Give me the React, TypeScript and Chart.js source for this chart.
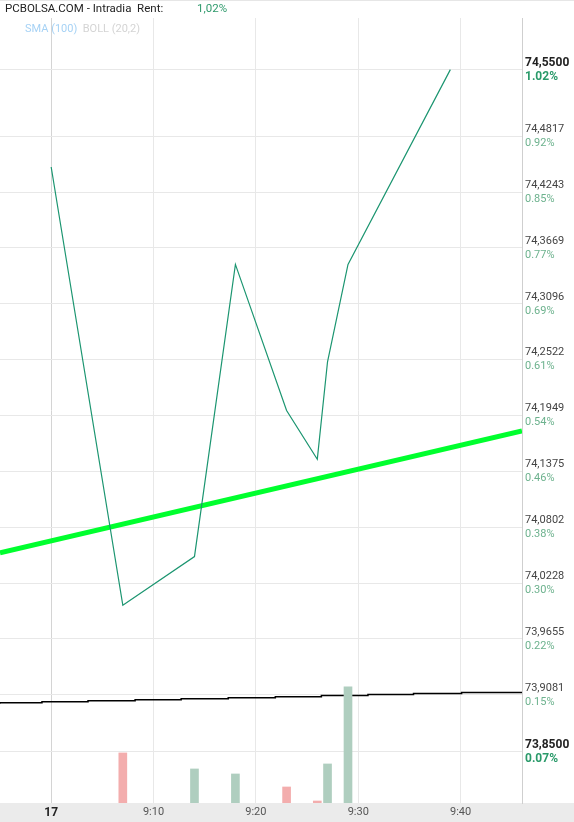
import { useEffect, useRef } from "react"
import { Chart, registerables } from "chart.js"

Chart.register(...registerables)

// times are minutes after 9:00 (the session of day 17)
const PRICE_TIMES = [0, 7, 14, 18, 23, 26, 27, 29, 39]
const PRICE_VALUES = [74.45, 74.0, 74.05, 74.35, 74.2, 74.15, 74.25, 74.35, 74.55]

const SMA_TIMES = [-5, 46]
const SMA_VALUES = [74.054, 74.179]

const BAND_TIMES = [-5, -0.9, 3.6, 8.2, 12.7, 17.3, 21.9, 26.4, 30.95, 35.4, 40.1, 44.6, 46]
const BAND_VALUES = [73.899, 73.9, 73.901, 73.902, 73.903, 73.904, 73.905, 73.906, 73.9074, 73.9083, 73.9095, 73.9105, 73.9105]

const VOLUME_TIMES = [7, 14, 18, 23, 26, 27, 29]
const VOLUME_VALUES = [1250, 850, 725, 400, 50, 975, 2900]
const VOLUME_UP = [false, true, true, false, false, true, true]
const VOLUME_MAX = 19600

const PRICE_TICKS = [73.85, 73.9081, 73.9655, 74.0228, 74.0802, 74.1375, 74.1949, 74.2522, 74.3096, 74.3669, 74.4243, 74.4817, 74.55]
const PCT_LABELS = ["0.07%", "0.15%", "0.22%", "0.30%", "0.38%", "0.46%", "0.54%", "0.61%", "0.69%", "0.77%", "0.85%", "0.92%", "1.02%"]
const PRICE_MIN = 73.797
const PRICE_MAX = 74.603

const TIME_TICKS = [0, 10, 20, 30, 40]
const TIME_LABELS = ["17", "9:10", "9:20", "9:30", "9:40"]
const TIME_MIN = -5
const TIME_MAX = 46

const FONT = "Roboto, 'Noto Sans', sans-serif"

const pairs = (xs: number[], ys: number[]) => xs.map((x, i) => ({ x, y: ys[i] }))

const decorations = {
  id: "decorations",
  beforeDraw(chart: any) {
    const { ctx, width, height } = chart
    const x = chart.scales.x
    ctx.save()
    ctx.fillStyle = "#ebebeb"
    ctx.fillRect(0, x.top, width, height - x.top)
    ctx.fillStyle = "#e6e6e6"
    ctx.fillRect(0, 0, width, 1)
    ctx.restore()
  },
  afterDraw(chart: any) {
    const { ctx } = chart
    const y = chart.scales.y
    ctx.save()
    ctx.textBaseline = "middle"
    ctx.textAlign = "left"
    y.ticks.forEach((t: any, i: number) => {
      const py = y.getPixelForValue(t.value)
      const strong = i === 0 || i === y.ticks.length - 1
      ctx.font = strong ? `bold 12px ${FONT}` : `11px ${FONT}`
      ctx.fillStyle = strong ? "#222" : "#444"
      ctx.fillText(t.value.toFixed(4).replace(".", ","), y.left + 3, py - (strong ? 6.5 : 7))
      ctx.fillStyle = strong ? "#2a9a6a" : "#6db28e"
      ctx.fillText(PCT_LABELS[i], y.left + 3, py + (strong ? 7.5 : 7))
    })
    ctx.restore()
  },
}

function IntradayChart() {
  const canvasRef = useRef<HTMLCanvasElement>(null)
  const chartRef = useRef<Chart | null>(null)

  useEffect(() => {
    if (!canvasRef.current) return
    if (chartRef.current) chartRef.current.destroy()

    chartRef.current = new Chart(canvasRef.current, {
      type: "line",
      data: {
        datasets: [
          {
            type: "bar",
            label: "Volumen",
            data: pairs(VOLUME_TIMES, VOLUME_VALUES),
            backgroundColor: VOLUME_UP.map((up) => (up ? "#afcebf" : "#f3adad")),
            barThickness: 8,
            yAxisID: "vol",
          } as any,
          {
            label: "Precio",
            data: pairs(PRICE_TIMES, PRICE_VALUES),
            borderColor: "#1b9570",
            borderWidth: 1.2,
            pointRadius: 0,
            tension: 0,
            yAxisID: "y",
          },
          {
            label: "BOLL (20,2)",
            data: pairs(BAND_TIMES, BAND_VALUES),
            borderColor: "#000",
            borderWidth: 1.5,
            pointRadius: 0,
            stepped: "after",
            yAxisID: "y",
          },
          {
            label: "SMA (100)",
            data: pairs(SMA_TIMES, SMA_VALUES),
            borderColor: "#00ff2e",
            borderWidth: 5,
            pointRadius: 0,
            yAxisID: "y",
          },
        ],
      },
      options: {
        animation: false,
        responsive: true,
        maintainAspectRatio: false,
        layout: { padding: { top: 18, left: 0, right: 0, bottom: 0 } },
        plugins: {
          legend: { display: false },
          tooltip: { enabled: false },
        },
        scales: {
          x: {
            type: "linear",
            min: TIME_MIN,
            max: TIME_MAX,
            offset: false,
            afterBuildTicks: (s: any) => {
              s.ticks = TIME_TICKS.map((value) => ({ value }))
            },
            afterFit: (s: any) => {
              s.height = 19
            },
            grid: {
              color: (c: any) => (c.tick && c.tick.value === 0 ? "#d4d4d4" : "#e8e8e8"),
              drawTicks: false,
              offset: false,
            },
            border: { display: false },
            ticks: {
              autoSkip: false,
              maxRotation: 0,
              padding: 3,
              callback: (v: any) => TIME_LABELS[TIME_TICKS.indexOf(Number(v))] ?? "",
              color: (c: any) => (c.tick && c.tick.value === 0 ? "#222" : "#555"),
              font: (c: any) =>
                c.tick && c.tick.value === 0
                  ? { family: FONT, size: 12, weight: "bold" }
                  : { family: FONT, size: 11 },
            },
          },
          y: {
            type: "linear",
            position: "right",
            min: PRICE_MIN,
            max: PRICE_MAX,
            afterBuildTicks: (s: any) => {
              s.ticks = PRICE_TICKS.map((value) => ({ value }))
            },
            afterFit: (s: any) => {
              s.width = 52
            },
            grid: { color: "#e8e8e8", drawTicks: false },
            border: { display: true, color: "#cfcfcf" },
            ticks: { display: false },
          },
          vol: {
            type: "linear",
            display: false,
            min: 0,
            max: VOLUME_MAX,
          },
        },
      },
      plugins: [decorations],
    } as any)

    return () => {
      if (chartRef.current) {
        chartRef.current.destroy()
        chartRef.current = null
      }
    }
  }, [])

  return (
    <div style={{ position: "absolute", left: 0, top: 0, width: 574, height: 822, fontFamily: FONT }}>
      <canvas ref={canvasRef} />
      <div style={{ position: "absolute", left: 5, top: 1, fontSize: 11.5, lineHeight: "14px", color: "#222", whiteSpace: "pre" }}>
        PCBOLSA.COM - Intradia  Rent:
      </div>
      <div style={{ position: "absolute", left: 197, top: 1, fontSize: 11.5, lineHeight: "14px", color: "#2f9a6c" }}>
        1,02%
      </div>
      <div style={{ position: "absolute", left: 25, top: 22, fontSize: 11, lineHeight: "14px", whiteSpace: "pre" }}>
        <span style={{ color: "#a6d2f5" }}>SMA (100)</span>
        <span style={{ color: "#d4d4d4" }}>  BOLL (20,2)</span>
      </div>
    </div>
  )
}

export default function App() {
  useEffect(() => {
    document.body.style.margin = "0"
  }, [])
  return <IntradayChart />
}
